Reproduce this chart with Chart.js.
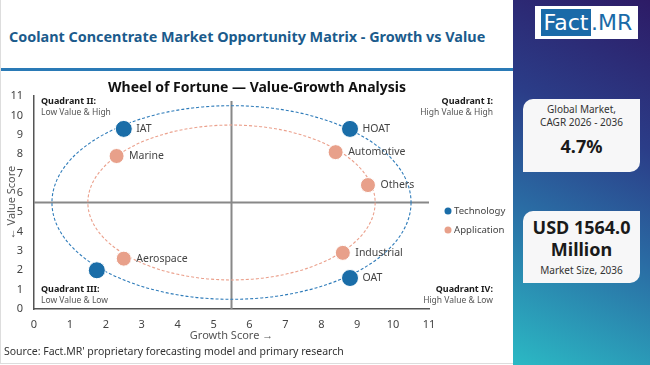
<!DOCTYPE html>
<html>
<head>
<meta charset="utf-8">
<script src="https://cdn.jsdelivr.net/npm/chart.js@4.4.1/dist/chart.umd.min.js"></script>
<style>
  html, body { margin: 0; padding: 0; width: 650px; height: 365px; overflow: hidden; background: #fff; font-family: 'Noto Sans', sans-serif; }
  #main { position: absolute; left: 0; top: 0; width: 513px; height: 364px; border-left: 1px solid #ddd; border-bottom: 1px solid #ddd; box-sizing: border-box; }
  #title { position: absolute; left: 8px; top: 27px; font-weight: 700; font-size: 14.4px; color: #1b5b8c; white-space: nowrap; }
  #rule { position: absolute; left: 0; top: 68px; width: 513px; height: 3px; background: #2a7ab6; }
  #chartBox { position: absolute; left: 0; top: 70px; width: 512px; height: 280px; }
  #source { position: absolute; left: 3px; top: 344px; font-size: 10.5px; color: #333; white-space: nowrap; }
  #side { position: absolute; left: 513px; top: 0; width: 137px; height: 365px;
          background: linear-gradient(205deg, #2d1b66 0%, #2b3d88 35%, #2a6ca4 62%, #2bb9c4 100%); }
  #logo { position: absolute; left: 22px; top: 6px; width: 103px; height: 33px; background: #fff; }
  #logo .f { position: absolute; left: 6px; top: 3px; width: 50px; height: 27px; background: #1a6aa8; color: #fff; font-size: 22px; line-height: 27px; text-align: center; font-family: 'DejaVu Sans', sans-serif; }
  #logo .m { position: absolute; left: 56px; top: 3px; height: 27px; color: #1a6aa8; font-size: 22px; line-height: 27px; font-family: 'DejaVu Sans', sans-serif; }
  .card { position: absolute; left: 10px; width: 117px; background: #f7f7f8; border-radius: 10px 0 10px 0; text-align: center; color: #222; }
  #card1 { top: 99px; height: 73px; }
  #card2 { top: 211px; height: 72px; }
  .small { font-size: 10px; line-height: 13px; color: #333; }
  .big { font-size: 18px; font-weight: 700; color: #1a1a1a; }
</style>
</head>
<body>
<div id="main">
  <div id="title">Coolant Concentrate Market Opportunity Matrix - Growth vs Value</div>
  <div id="rule"></div>
  <div id="chartBox"><canvas id="chart" width="512" height="280"></canvas></div>
  <div id="source">Source: Fact.MR' proprietary forecasting model and primary research</div>
</div>
<div id="side">
  <div id="logo"><div class="f">Fact</div><div class="m">.MR</div></div>
  <div class="card" id="card1">
    <div class="small" style="margin-top:4px">Global Market,<br>CAGR 2026 - 2036</div>
    <div class="big" style="margin-top:5px">4.7%</div>
  </div>
  <div class="card" id="card2">
    <div class="big" style="margin-top:5px;line-height:22px">USD 1564.0<br>Million</div>
    <div class="small" style="margin-top:4px">Market Size, 2036</div>
  </div>
</div>

<script>
// ── Data ─────────────────────────────────────────────────────────────────────
const techNames  = ['IAT', 'HOAT', 'OAT', '']
const techGrowth = [2.5, 8.8, 8.8, 1.75]
const techValue  = [9.3, 9.3, 1.6, 2.0]

const appNames  = ['Marine', 'Automotive', 'Others', 'Aerospace', 'Industrial']
const appGrowth = [2.3, 8.4, 9.3, 2.5, 8.6]
const appValue  = [7.9, 8.1, 6.4, 2.6, 2.9]

const axisMin = 0
const axisMax = 11
const splitAt = 5.5   // quadrant divider on both axes

// rings: centre + radius in data units
const techRing = { cx: 5.5, cy: 5.5, rx: 5, ry: 5 }
const appRing  = { cx: 5.5, cy: 5.5, rx: 4, ry: 4 }

const quadTitles = ['Quadrant II:', 'Quadrant I:', 'Quadrant III:', 'Quadrant IV:']
const quadSubs   = ['Low Value & High', 'High Value & High', 'Low Value & Low', 'High Value & Low']

const BLUE   = '#1a6da8'
const ORANGE = '#e8a08a'
const FONT   = "'Noto Sans', sans-serif"

const toPts = (xs, ys) => xs.map((x, i) => ({ x, y: ys[i] }))

// ── Plugin: quadrant lines + rings (under the dots) ──────────────────────────
const backdrop = {
  id: 'backdrop',
  beforeDatasetsDraw(chart) {
    const { ctx, chartArea: a, scales: { x, y } } = chart
    ctx.save()
    // quadrant lines
    ctx.strokeStyle = '#888'
    ctx.lineWidth = 2
    ctx.beginPath()
    const vx = x.getPixelForValue(splitAt)
    ctx.moveTo(vx, a.bottom); ctx.lineTo(vx, a.top + 5)
    const hy = y.getPixelForValue(splitAt)
    ctx.moveTo(a.left, hy); ctx.lineTo(a.right, hy)
    ctx.stroke()

    const ring = (r, color) => {
      const px = x.getPixelForValue(r.cx), py = y.getPixelForValue(r.cy)
      const rx = Math.abs(x.getPixelForValue(r.cx + r.rx) - px)
      const ry = Math.abs(y.getPixelForValue(r.cy + r.ry) - py)
      ctx.beginPath()
      ctx.setLineDash([3, 2])
      ctx.lineWidth = 1.1
      ctx.strokeStyle = color
      ctx.ellipse(px, py, rx, ry, 0, 0, Math.PI * 2)
      ctx.stroke()
    }
    ring(techRing, '#2f7cba')
    ring(appRing, '#eba08c')
    ctx.restore()
  },
}

// ── Plugin: point labels, quadrant notes, legend, title ──────────────────────
const overlay = {
  id: 'overlay',
  afterDatasetsDraw(chart) {
    const { ctx, chartArea: a } = chart
    ctx.save()

    // point labels
    ctx.font = `10.5px ${FONT}`
    ctx.fillStyle = '#444'
    ctx.textAlign = 'left'
    ctx.textBaseline = 'middle'
    chart.data.datasets.forEach((ds, di) => {
      chart.getDatasetMeta(di).data.forEach((el, i) => {
        const name = ds.names[i]
        if (name) ctx.fillText(name, el.x + 12.5, el.y)
      })
    })

    // quadrant notes
    const spots = [
      { x: a.left + 7,   y: a.top + 5,     align: 'left' },
      { x: a.right + 64, y: a.top + 5,     align: 'right' },
      { x: a.left + 7,   y: a.bottom - 20, align: 'left' },
      { x: a.right + 64, y: a.bottom - 20, align: 'right' },
    ]
    spots.forEach((s, i) => {
      ctx.textAlign = s.align
      ctx.font = `bold 9px ${FONT}`
      ctx.fillStyle = '#1a1a1a'
      ctx.fillText(quadTitles[i], s.x, s.y)
      ctx.font = `8.5px ${FONT}`
      ctx.fillStyle = '#555'
      ctx.fillText(quadSubs[i], s.x, s.y + 11.5)
    })

    // legend
    ctx.textAlign = 'left'
    ctx.font = `9.6px ${FONT}`
    chart.data.datasets.forEach((ds, di) => {
      const ly = a.top + 115 + di * 19
      ctx.fillStyle = ds.backgroundColor
      ctx.beginPath(); ctx.arc(a.left + 414, ly, 3.5, 0, Math.PI * 2); ctx.fill()
      ctx.fillStyle = '#444'
      ctx.fillText(ds.label, a.left + 420, ly)
    })

    // chart title
    ctx.textAlign = 'center'
    ctx.font = `bold 14px ${FONT}`
    ctx.fillStyle = '#111'
    ctx.fillText('Wheel of Fortune — Value-Growth Analysis', chart.width / 2, 18)
    ctx.restore()
  },
}

// ── Axis options ─────────────────────────────────────────────────────────────
function axis(title, fitFn) {
  return {
    type: 'linear',
    min: axisMin, max: axisMax,
    ticks: { stepSize: 1, color: '#444', font: { size: 11, family: FONT }, padding: 0 },
    grid: { drawOnChartArea: false, drawTicks: false },
    border: { display: true, color: '#555', width: 1.5 },
    title: { display: true, text: title, color: '#555', font: { size: 11, family: FONT } },
    afterFit: fitFn,
  }
}

const xAxis = axis('Growth Score →', s => { s.height = 37 })
xAxis.ticks.padding = 9
const yAxis = axis('← Value Score', s => { s.width = 33 })
yAxis.ticks.padding = 11

new Chart(document.getElementById('chart'), {
  type: 'scatter',
  data: {
    datasets: [
      {
        label: 'Technology',
        names: techNames,
        data: toPts(techGrowth, techValue),
        backgroundColor: BLUE, borderColor: '#fff', borderWidth: 1,
        pointRadius: 8.5, pointHoverRadius: 8.5,
      },
      {
        label: 'Application',
        names: appNames,
        data: toPts(appGrowth, appValue),
        backgroundColor: ORANGE, borderColor: '#fff', borderWidth: 1,
        pointRadius: 7.5, pointHoverRadius: 7.5,
      },
    ],
  },
  options: {
    responsive: false,
    animation: false,
    layout: { padding: { left: 0, right: 84, top: 26, bottom: 4 } },
    plugins: { legend: { display: false }, tooltip: { enabled: false } },
    scales: { x: xAxis, y: yAxis },
  },
  plugins: [backdrop, overlay],
})
</script>
</body>
</html>
